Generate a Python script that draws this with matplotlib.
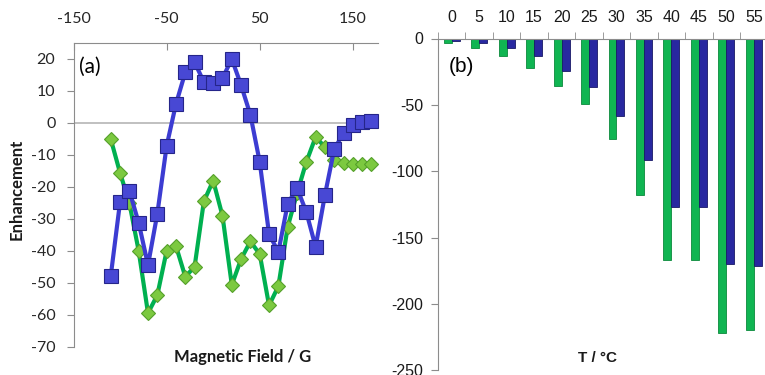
import matplotlib.pyplot as plt
import numpy as np

plt.rcParams['axes.unicode_minus'] = False

# panel (a): enhancement vs magnetic field
field = [-110, -100, -90, -80, -70, -60, -50, -40, -30, -20, -10, 0, 10, 20, 30,
         40, 50, 60, 70, 80, 90, 100, 110, 120, 130, 140, 150, 160, 170]
blue_enh = [-47.8, -24.7, -21.2, -31.2, -44.4, -28.4, -7.2, 5.9, 15.8, 19.0, 12.8,
            12.5, 14.0, 20.0, 11.8, 2.5, -12.2, -34.7, -40.3, -25.3, -20.3, -27.8,
            -38.7, -22.5, -8.2, -3.1, -0.6, 0.3, 0.6]
green_enh = [-5.0, -15.6, -25.0, -40.0, -59.4, -53.8, -40.0, -38.4, -48.0, -45.0,
             -24.5, -18.0, -29.0, -50.6, -42.5, -37.0, -41.0, -57.0, -51.0, -32.5,
             -22.0, -12.2, -4.4, -7.5, -11.6, -12.5, -12.8, -12.8, -12.8]

# panel (b): bars vs temperature
temps = ['0', '5', '10', '15', '20', '25', '30', '35', '40', '45', '50', '55']
green_bar = [-3.6, -7.5, -13.2, -22.5, -35.6, -49.6, -76, -118, -167, -167, -222, -220]
blue_bar = [-1.7, -3.6, -7.4, -13.2, -24.3, -36.3, -58.4, -91.6, -126.8, -126.8, -169.6, -171.5]

fig = plt.figure(figsize=(7.65, 3.75), dpi=100)
grey = '#8c8c8c'

# ---------- (a) ----------
ax = fig.add_axes([73.5 / 765, 1 - 347 / 375, (378 - 73.5) / 765, (347 - 43) / 375])
ax.plot(field, green_enh, color='#00b050', lw=3, marker='D', ms=7.5,
        mfc='#7cc940', mec='#55a02a', mew=0.8, clip_on=False, zorder=3)
ax.plot(field, blue_enh, color='#3c3cd2', lw=3, marker='s', ms=9.5,
        mfc='#4848d4', mec='#25258a', mew=0.8, clip_on=False, zorder=4)
ax.axhline(0, color='#b5b5b5', lw=1.2, zorder=1)
ax.set_xlim(-150, 177)
ax.set_ylim(-70, 25)
ax.set_yticks(np.arange(-70, 21, 10))
ax.set_xticks([-150, -50, 50, 150])
ax.xaxis.tick_top()
for s in ['right', 'bottom']:
    ax.spines[s].set_visible(False)
for s in ['left', 'top']:
    ax.spines[s].set_color(grey)
ax.tick_params(axis='x', direction='in', length=5, pad=12, color=grey,
               labelsize=11.5, labelcolor='#262626', labelfontfamily='Lato')
ax.tick_params(axis='y', direction='out', length=5, pad=8, color=grey,
               labelsize=11.5, labelcolor='#262626', labelfontfamily='Lato')
fig.text(90 / 765, 1 - 67 / 375, '(a)', ha='center', va='center', fontsize=15,
         family='Lato')
fig.text(17 / 765, 1 - 189 / 375, 'Enhancement', rotation=90, ha='center', va='center',
         fontsize=12, fontweight='bold', family='Lato', color='#1a1a1a')
fig.text(243 / 765, 1 - 357 / 375, 'Magnetic Field / G', ha='center', va='center',
         fontsize=12, fontweight='bold', family='Lato', color='#1a1a1a')

# ---------- (b) ----------
bx = fig.add_axes([438 / 765, 1 - 370.3 / 375, 329.5 / 765, (370.3 - 38.5) / 375])
x = np.arange(len(temps))
w = 0.29
bx.bar(x - w / 2, green_bar, w, color='#10b552', edgecolor='#0b8a3c', lw=0.6)
bx.bar(x + w / 2, blue_bar, w, color='#2828a0', edgecolor='#181866', lw=0.6)
bx.set_xlim(-0.5, len(temps) - 0.5)
bx.set_ylim(-250, 0)
bx.set_yticks(np.arange(-250, 1, 50))
bx.xaxis.tick_top()
bx.set_xticks(x)
bx.set_xticklabels(temps)
bx.set_xticks(np.arange(-0.5, len(temps)), minor=True)
for s in ['right', 'bottom']:
    bx.spines[s].set_visible(False)
for s in ['left', 'top']:
    bx.spines[s].set_color(grey)
bx.tick_params(axis='x', which='major', length=0, pad=10, labelsize=11.5,
               labelcolor='#1a1a1a', labelfontfamily='Liberation Sans')
bx.tick_params(axis='x', which='minor', direction='out', length=5, color=grey)
bx.tick_params(axis='y', direction='out', length=5, pad=5.5, color=grey, labelsize=11.5,
               labelcolor='#1a1a1a', labelfontfamily='Liberation Sans')
fig.text(461 / 765, 1 - 67 / 375, '(b)', ha='center', va='center', fontsize=15,
         family='Liberation Sans')
fig.text(598 / 765, 1 - 358 / 375, 'T / °C', ha='center', va='center', fontsize=11,
         fontweight='bold', family='Liberation Sans', color='#1a1a1a')

fig.savefig('out.png', dpi=100)
